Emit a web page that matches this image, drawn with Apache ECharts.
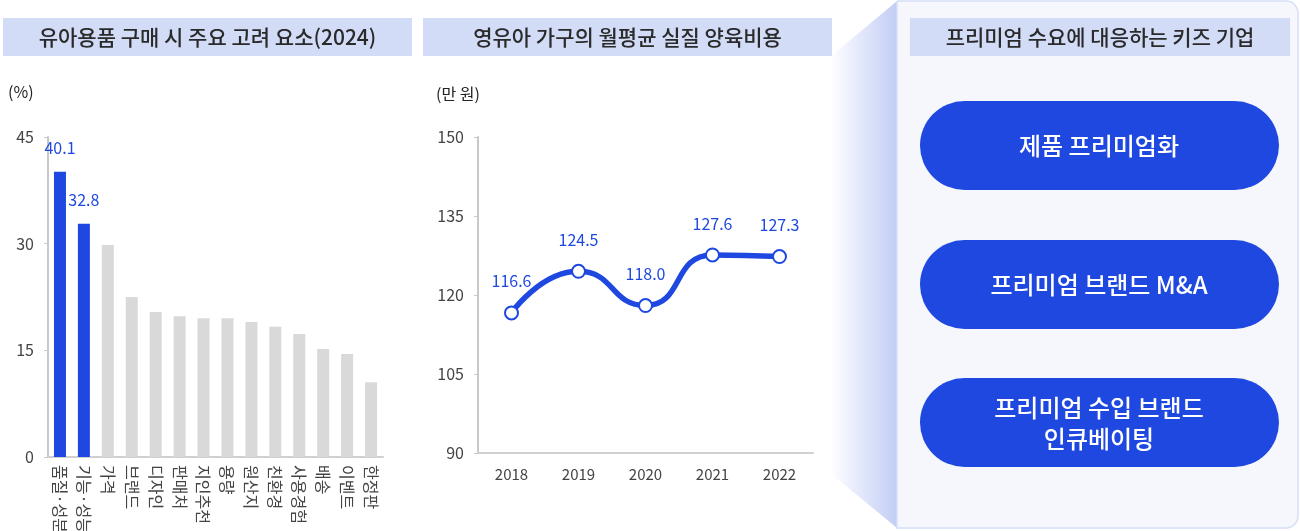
<!DOCTYPE html>
<html>
<head>
<meta charset="utf-8">
<script src="https://cdn.jsdelivr.net/npm/echarts@6/dist/echarts.min.js"></script>
<style>
  html, body { margin: 0; padding: 0; background: #fff; }
  #main { width: 1300px; height: 531px; }
</style>
</head>
<body>
<div id="main"></div>
<script>
// 유아용품 구매 시 주요 고려 요소(2024)
const factorNames = ['품질·성분', '기능·성능', '가격', '브랜드', '디자인', '판매처', '지인추천', '용량', '원산지', '친환경', '사용경험', '배송', '이벤트', '한정판'];
const factorValues = [40.1, 32.8, 29.8, 22.5, 20.4, 19.8, 19.5, 19.5, 19.0, 18.3, 17.3, 15.2, 14.5, 10.5];
const highlightCount = 2;

// 영유아 가구의 월평균 실질 양육비용
const years = ['2018', '2019', '2020', '2021', '2022'];
const costValues = [116.6, 124.5, 118.0, 127.6, 127.3];

// 프리미엄 수요에 대응하는 키즈 기업
const strategies = ['제품 프리미엄화', '프리미엄 브랜드 M&A', '프리미엄 수입 브랜드\n인큐베이팅'];

const BLUE = '#1f48e0';
const FONT = '"Noto Sans CJK KR", "Noto Sans", sans-serif';

const chart = echarts.init(document.getElementById('main'));

const titleBox = (x, w, text) => [
  { type: 'rect', shape: { x: x, y: 18, width: w, height: 38 }, style: { fill: '#d3dcf7' }, z: 10 },
  { type: 'text', x: x + w / 2, y: 37, style: { text: text, fill: '#2a2a2a', font: '500 21px ' + FONT, align: 'center', verticalAlign: 'middle' }, z: 11 },
];

const pillTops = [101, 240, 378];
const pills = [];
strategies.forEach((s, i) => {
  pills.push({ type: 'rect', shape: { x: 920, y: pillTops[i], width: 359, height: 89, r: 44.5 }, style: { fill: BLUE }, z: 10 });
  pills.push({ type: 'text', x: 1099, y: pillTops[i] + 45, style: { text: s, fill: '#fff', font: '500 24px ' + FONT, align: 'center', verticalAlign: 'middle', lineHeight: 31 }, z: 11 });
});

chart.setOption({
  animation: false,
  textStyle: { fontFamily: FONT },
  grid: [
    { left: 48, top: 137, width: 335, height: 320, outerBoundsMode: 'none' },
    { left: 478, top: 137, width: 335, height: 316, outerBoundsMode: 'none' },
  ],
  xAxis: [
    {
      gridIndex: 0, type: 'category', data: factorNames,
      axisLine: { lineStyle: { color: '#d0d0d0', width: 2 } },
      axisTick: { show: false },
      axisLabel: { rotate: -90, color: '#444', fontSize: 16, margin: 8, interval: 0 },
    },
    {
      gridIndex: 1, type: 'category', data: years,
      axisLine: { lineStyle: { color: '#d0d0d0', width: 2 } },
      axisTick: { show: false },
      axisLabel: { color: '#444', fontSize: 15, margin: 14 },
    },
  ],
  yAxis: [
    {
      gridIndex: 0, type: 'value', min: 0, max: 45, interval: 15,
      axisLine: { show: true, lineStyle: { color: '#c8c8c8', width: 2 } },
      axisTick: { show: true, length: 4, lineStyle: { color: '#c8c8c8' } },
      splitLine: { show: false },
      axisLabel: { color: '#444', fontSize: 16, margin: 14 },
    },
    {
      gridIndex: 1, type: 'value', min: 90, max: 150, interval: 15,
      axisLine: { show: true, lineStyle: { color: '#c8c8c8', width: 2 } },
      axisTick: { show: true, length: 4, lineStyle: { color: '#c8c8c8' } },
      splitLine: { show: false },
      axisLabel: { color: '#444', fontSize: 16, margin: 14 },
    },
  ],
  series: [
    {
      type: 'bar', xAxisIndex: 0, yAxisIndex: 0, barWidth: 12,
      data: factorValues.map((v, i) => ({
        value: v,
        itemStyle: { color: i < highlightCount ? BLUE : '#d9d9d9' },
        label: { show: i < highlightCount },
      })),
      label: { position: 'top', distance: 16, color: BLUE, fontSize: 16 },
    },
    {
      type: 'line', xAxisIndex: 1, yAxisIndex: 1, data: costValues,
      smooth: 0.55,
      lineStyle: { color: BLUE, width: 5.5 },
      symbol: 'circle', symbolSize: 13,
      itemStyle: { color: '#fff', borderColor: BLUE, borderWidth: 2 },
      label: { show: true, position: 'top', distance: 16, color: BLUE, fontSize: 16, formatter: p => p.value.toFixed(1) },
    },
  ],
  graphic: [
    {
      type: 'polygon', shape: { points: [[830, 57], [897, 1], [897, 528], [830, 473]] },
      style: { fill: new echarts.graphic.LinearGradient(0, 0, 1, 0, [{ offset: 0, color: '#ffffff' }, { offset: 1, color: '#c2cdf5' }]) },
      z: 5,
    },
    { type: 'rect', shape: { x: 897, y: 1, width: 401, height: 527, r: [0, 12, 12, 0] }, style: { fill: '#f5f7fc', stroke: '#d6def8', lineWidth: 1.5 }, z: 6 },
    ...titleBox(3, 409, '유아용품 구매 시 주요 고려 요소(2024)'),
    ...titleBox(423, 409, '영유아 가구의 월평균 실질 양육비용'),
    ...titleBox(910, 380, '프리미엄 수요에 대응하는 키즈 기업'),
    ...pills,
    { type: 'text', x: 8, y: 92, style: { text: '(%)', fill: '#222', font: '16px ' + FONT, verticalAlign: 'middle' } },
    { type: 'text', x: 436, y: 94, style: { text: '(만 원)', fill: '#222', font: '16px ' + FONT, verticalAlign: 'middle' } },
  ],
});
</script>
</body>
</html>
